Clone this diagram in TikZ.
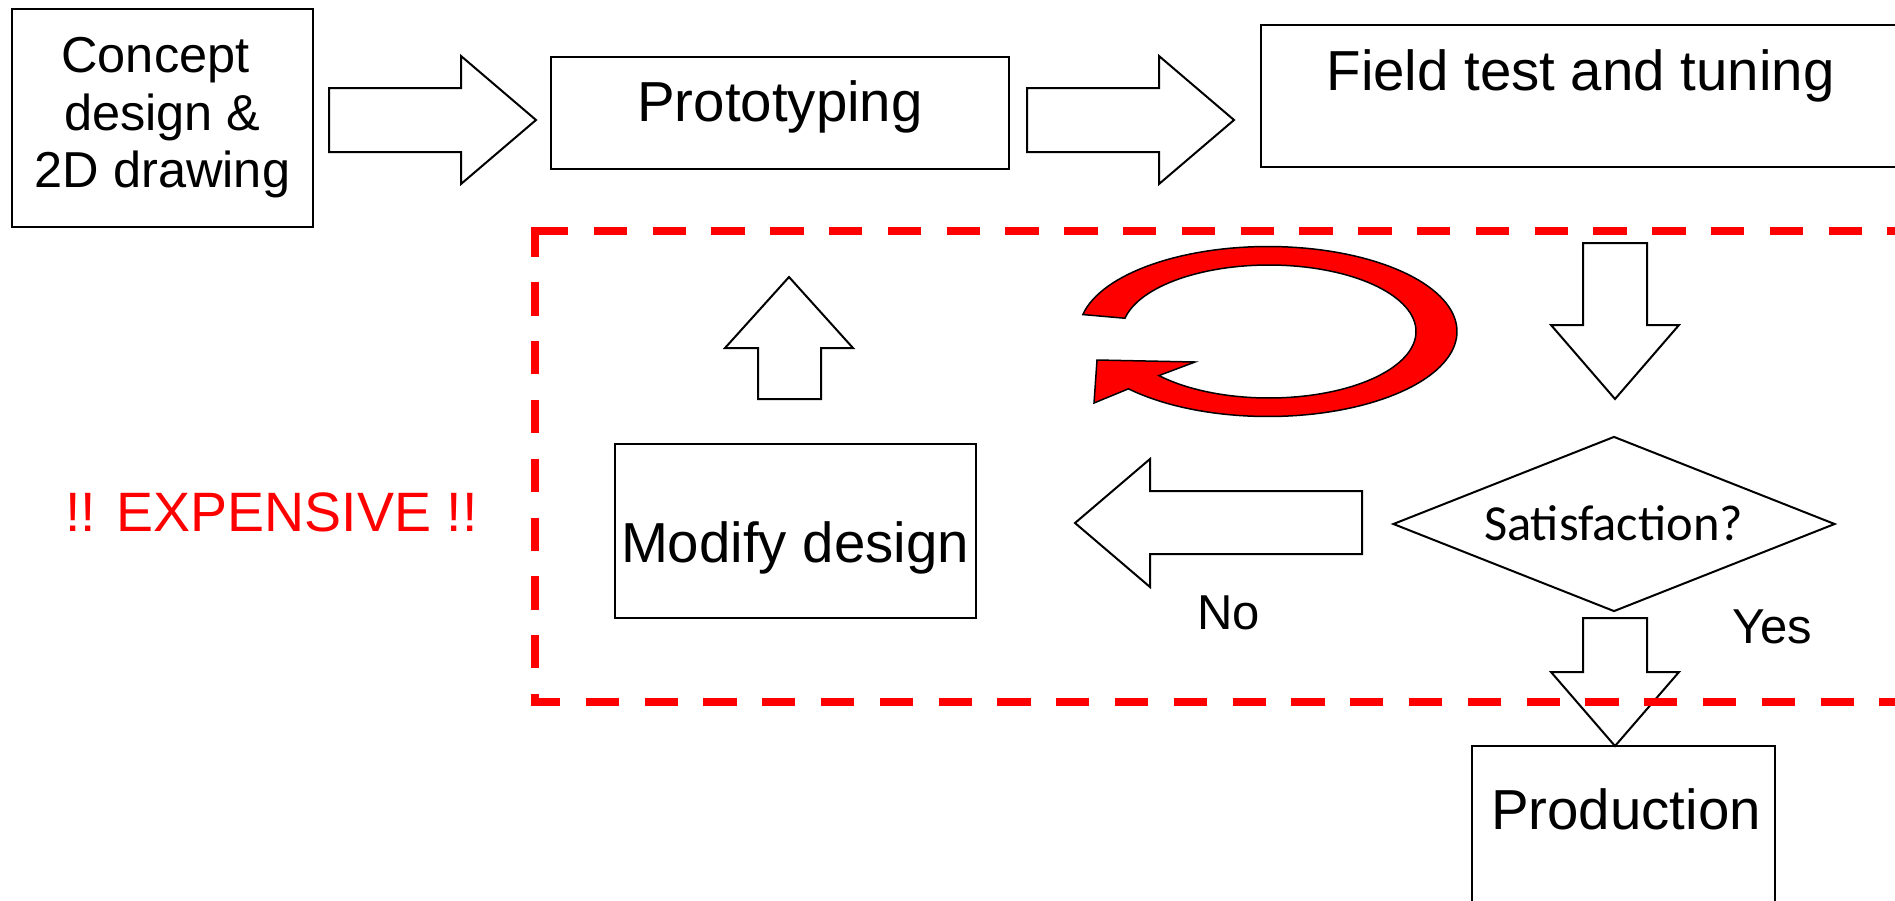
\documentclass[tikz,border=0pt]{standalone}
\usepackage{fontspec}
\setmainfont{Liberation Sans}
\newfontfamily\calibrifont{Carlito}
\usetikzlibrary{shapes.geometric}
\tikzset{
  box/.style={draw=black, line width=2pt, fill=white, inner sep=0pt, outer sep=0pt},
  blockarrow/.style={draw=black, line width=2pt, fill=white, line join=miter},
  lbl/.style={anchor=base, inner sep=0pt, font=\fontsize{56.4}{64}\selectfont},
  smalllbl/.style={anchor=base, inner sep=0pt, font=\fontsize{49}{56}\selectfont},
  dashbox/.style={draw=red, line width=7.7pt, dash pattern=on 33.3pt off 25.5pt},
  cycarrow/.style={fill=red, draw=black, line width=1.5pt, line join=miter},
}
\begin{document}
\begin{tikzpicture}[x=1pt,y=-1pt]
\useasboundingbox (0,0) rectangle (1895,900);
\clip (0,0) rectangle (1895,900);
\fill[white] (0,0) rectangle (1895,900);

% boxes
\node[box, minimum width=301, minimum height=218, align=center,
      font=\fontsize{50.5}{57.5}\selectfont] (concept) at (162.5,118)
      {Concept\hspace*{.278em}\\design \&\\2D drawing};
\node[box, minimum width=458, minimum height=112] (proto) at (780,113) {};
\node[box, minimum width=641, minimum height=142] (field) at (1581.5,96) {};
\node[box, minimum width=361, minimum height=174] (modify) at (795.5,531) {};
\node[box, minimum width=303, minimum height=244] (prod) at (1623.5,868) {};
\node[draw=black, line width=2pt, fill=white, diamond, inner sep=0pt,
      minimum width=442, minimum height=175] (sat) at (1614,524) {};

% block arrows
\draw[blockarrow] (329,88) -- (461,88) -- (461,56) -- (536,120) -- (461,184) -- (461,152) -- (329,152) -- cycle;
\draw[blockarrow] (1027,88) -- (1159,88) -- (1159,56) -- (1234,120) -- (1159,184) -- (1159,152) -- (1027,152) -- cycle;
\draw[blockarrow] (758,399) -- (758,348) -- (725,348) -- (789,277) -- (853,348) -- (821,348) -- (821,399) -- cycle;
\draw[blockarrow] (1362,491) -- (1150,491) -- (1150,459) -- (1075,523) -- (1150,587) -- (1150,554) -- (1362,554) -- cycle;
\draw[blockarrow] (1583,243) -- (1647,243) -- (1647,325) -- (1679,325) -- (1615,399) -- (1551,325) -- (1583,325) -- cycle;
\draw[blockarrow] (1583,618) -- (1647,618) -- (1647,672) -- (1679,672) -- (1615,746) -- (1551,672) -- (1583,672) -- cycle;

% circular red arrow
\draw[cycarrow] plot[domain=191.5:497.6, samples=120] ({1268+189*cos(\x)},{331.5+85*sin(\x)})
  -- (1094,403) -- (1097,360) -- (1195,362)
  -- plot[domain=-498.5:-191.5, samples=120] ({1269+147*cos(-\x)},{331.5+66.5*sin(-\x)})
  -- cycle;

% dashed red frame
\draw[dashbox] (535,231) -- (1900,231);
\draw[dashbox, dash phase=7.5pt] (535,231) -- (535,702) -- (1900,702);
\fill[red] (531.15,227.15) rectangle (535,231);

% texts
\node[lbl] (protoT) at (780,121) {Prototyping};
\node[lbl] (fieldT) at (1580.5,90) {Field test and tuning};
\node[lbl] (modT) at (795,562) {Modify design};
\node[lbl] (prodT) at (1626,829) {Production};
\node[lbl, text=red, font=\fontsize{55.5}{64}\selectfont] (expT) at (271.5,531) {!! EXPENSIVE !!};
\node[anchor=base, inner sep=0pt, font=\calibrifont\fontsize{50.5}{58}\selectfont] (satT) at (1613.5,540.5) {Satisfaction?};
\node[smalllbl] (noT) at (1228.5,629) {No};
\node[smalllbl] (yesT) at (1772,643) {Yes};
\end{tikzpicture}
\end{document}
